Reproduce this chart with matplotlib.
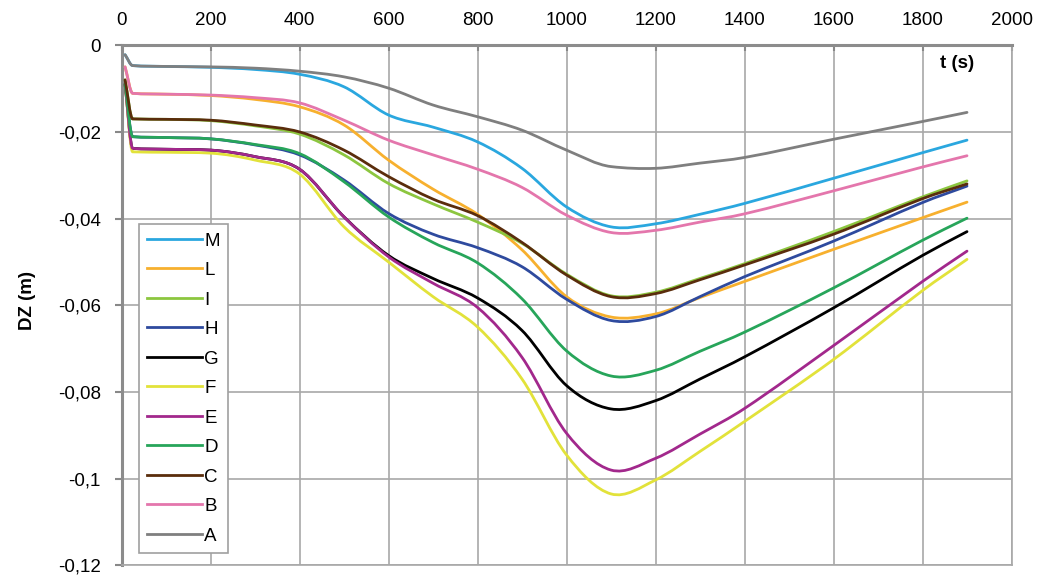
import numpy as np
import matplotlib
matplotlib.use('Agg')
import matplotlib.pyplot as plt
from matplotlib.path import Path
from matplotlib.patches import PathPatch
from matplotlib.lines import Line2D
from matplotlib.ticker import MultipleLocator, FuncFormatter

plt.rcParams['font.family'] = ['Liberation Sans', 'DejaVu Sans']

# time (s)
t = [8, 25, 100, 200, 300, 400, 500, 600, 700, 800, 900, 1000, 1100, 1200, 1300, 1400, 1600, 1800, 1900]

# vertical displacement DZ (m) per point
M = [-0.0022, -0.0047, -0.0049, -0.0051, -0.0056, -0.0067, -0.0096, -0.0161, -0.0189, -0.0223,
     -0.0284, -0.0373, -0.0419, -0.0412, -0.0390, -0.0365, -0.0307, -0.0248, -0.0219]
L = [-0.0050, -0.0111, -0.0113, -0.0116, -0.0125, -0.0142, -0.0184, -0.0265, -0.0332, -0.0390,
     -0.0472, -0.0580, -0.0627, -0.0620, -0.0582, -0.0545, -0.0471, -0.0398, -0.0362]
I = [-0.0080, -0.0170, -0.0171, -0.0174, -0.0186, -0.0205, -0.0253, -0.0319, -0.0366, -0.0408,
     -0.0457, -0.0528, -0.0578, -0.0570, -0.0538, -0.0504, -0.0430, -0.0350, -0.0313]
H = [-0.0090, -0.0211, -0.0213, -0.0216, -0.0230, -0.0253, -0.0311, -0.0388, -0.0436, -0.0467,
     -0.0511, -0.0586, -0.0635, -0.0626, -0.0580, -0.0534, -0.0452, -0.0363, -0.0325]
G = [-0.0090, -0.0238, -0.0240, -0.0242, -0.0257, -0.0286, -0.0396, -0.0485, -0.0538, -0.0583,
     -0.0658, -0.0785, -0.0839, -0.0820, -0.0770, -0.0719, -0.0606, -0.0485, -0.0430]
F = [-0.0090, -0.0246, -0.0247, -0.0249, -0.0265, -0.0297, -0.0419, -0.0500, -0.0580, -0.0650,
     -0.0770, -0.0945, -0.1035, -0.1003, -0.0937, -0.0868, -0.0725, -0.0566, -0.0494]
E = [-0.0090, -0.0238, -0.0240, -0.0242, -0.0257, -0.0286, -0.0396, -0.0488, -0.0549, -0.0605,
     -0.0720, -0.0895, -0.0980, -0.0953, -0.0897, -0.0838, -0.0693, -0.0545, -0.0475]
D = [-0.0090, -0.0211, -0.0213, -0.0216, -0.0229, -0.0250, -0.0315, -0.0396, -0.0455, -0.0502,
     -0.0585, -0.0705, -0.0763, -0.0750, -0.0706, -0.0662, -0.0560, -0.0450, -0.0399]
C = [-0.0080, -0.0170, -0.0171, -0.0173, -0.0184, -0.0200, -0.0242, -0.0303, -0.0355, -0.0393,
     -0.0455, -0.0530, -0.0580, -0.0573, -0.0541, -0.0507, -0.0436, -0.0354, -0.0320]
B = [-0.0050, -0.0111, -0.0113, -0.0115, -0.0121, -0.0133, -0.0173, -0.0219, -0.0253, -0.0286,
     -0.0328, -0.0392, -0.0432, -0.0427, -0.0408, -0.0389, -0.0336, -0.0281, -0.0255]
A = [-0.0022, -0.0047, -0.0049, -0.0050, -0.0053, -0.0060, -0.0073, -0.0099, -0.0138, -0.0165,
     -0.0196, -0.0242, -0.0280, -0.0284, -0.0272, -0.0259, -0.0217, -0.0176, -0.0155]

names = ['M', 'L', 'I', 'H', 'G', 'F', 'E', 'D', 'C', 'B', 'A']
series = [M, L, I, H, G, F, E, D, C, B, A]
colors = ['#2aa7df', '#f7b02e', '#8cc63f', '#2e4a9e', '#000000', '#e2e23a',
          '#a2288c', '#27a55a', '#5a2d0c', '#e476ac', '#7f7f7f']


def smooth_path(x, y):
    # smoothed line drawn as bezier segments (centered tangents, limited
    # so the sharp start drop does not overshoot)
    x = np.asarray(x, float)
    y = np.asarray(y, float)
    h = np.diff(x)
    d = np.diff(y) / h
    m = np.empty_like(y)
    m[0], m[-1] = d[0], d[-1]
    for i in range(1, len(x) - 1):
        m[i] = (y[i + 1] - y[i - 1]) / (x[i + 1] - x[i - 1])
        lim = 3 * min(abs(d[i - 1]), abs(d[i]))
        m[i] = np.clip(m[i], -lim, lim) if d[i - 1] * d[i] > 0 else m[i]
    verts = [(x[0], y[0])]
    codes = [Path.MOVETO]
    for i in range(len(x) - 1):
        verts += [(x[i] + h[i] / 3, y[i] + m[i] * h[i] / 3),
                  (x[i + 1] - h[i] / 3, y[i + 1] - m[i + 1] * h[i] / 3),
                  (x[i + 1], y[i + 1])]
        codes += [Path.CURVE4] * 3
    return Path(verts, codes)


fig = plt.figure(figsize=(10.43, 5.81), dpi=100)
ax = fig.add_axes([0.1165, 0.0268, 0.8533, 0.8954])

handles = []
for name, ys, c in zip(names, series, colors):
    ax.add_patch(PathPatch(smooth_path(t, ys), fill=False, edgecolor=c, lw=2.0,
                           joinstyle='round', capstyle='round', zorder=3))
    handles.append(Line2D([], [], color=c, lw=2.0, label=name))

ax.set_xlim(0, 2000)
ax.set_ylim(-0.12, 0)
ax.xaxis.set_major_locator(MultipleLocator(200))
ax.yaxis.set_major_locator(MultipleLocator(0.02))
ax.yaxis.set_major_formatter(FuncFormatter(
    lambda v, p: '0' if abs(v) < 1e-9 else f'{v:g}'.replace('.', ',')))
ax.xaxis.tick_top()
ax.tick_params(axis='x', direction='in', length=4, width=1.5, color='#888888',
               pad=12, labelsize=13.5)
ax.tick_params(axis='y', direction='out', length=5, width=1.5, color='#888888',
               pad=10, labelsize=13.5)

ax.grid(True, color='#a8a8a8', lw=1.2, zorder=0)
ax.set_axisbelow(True)
for s in ['top', 'left']:
    ax.spines[s].set_color('#8c8c8c')
    ax.spines[s].set_linewidth(2.2)
for s in ['bottom', 'right']:
    ax.spines[s].set_color('#a8a8a8')
    ax.spines[s].set_linewidth(1.2)

ax.text(1877, -0.0043, 't (s)', fontsize=13.5, fontweight='bold', ha='center', va='center')
fig.text(27 / 1043, 1 - 300 / 581, 'DZ (m)', rotation=90, fontsize=13.5,
         fontweight='bold', ha='center', va='center')

leg = ax.legend(handles=handles, loc='lower left', bbox_to_anchor=(0.0197, 0.024),
                borderaxespad=0, fontsize=13.5, handlelength=2.9, handletextpad=0.12,
                labelspacing=0.66, fancybox=False, framealpha=1, borderpad=0.45)
leg.get_frame().set_edgecolor('#a0a0a0')
leg.get_frame().set_linewidth(1.2)

fig.savefig('out.png', dpi=100)
